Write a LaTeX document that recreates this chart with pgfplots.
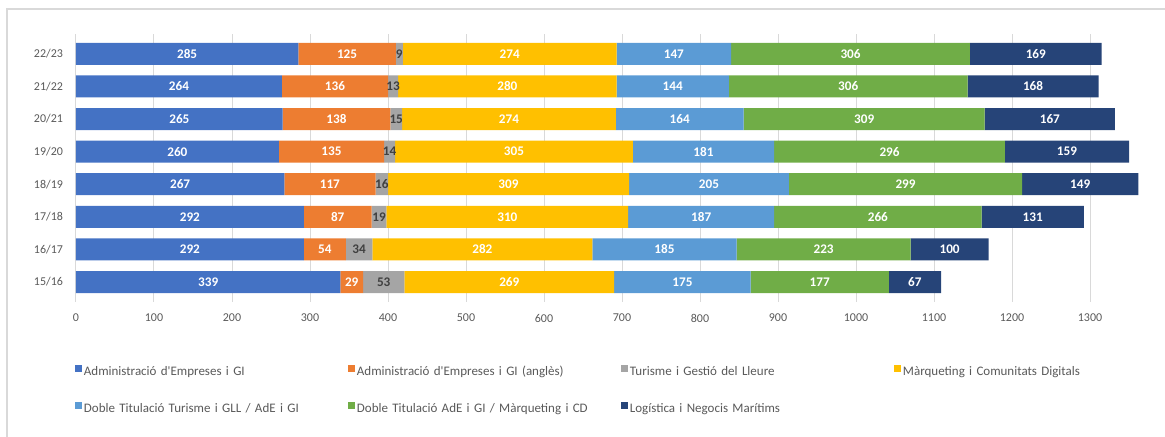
\documentclass[border=0pt]{standalone}
\usepackage{pgfplots}
\pgfplotsset{compat=1.18}
\usepackage{pgfplotstable}
\usepackage{fontspec}
\setmainfont{Carlito}
\definecolor{c1}{HTML}{4472C4}
\definecolor{c2}{HTML}{ED7D31}
\definecolor{c3}{HTML}{A5A5A5}
\definecolor{c4}{HTML}{FFC000}
\definecolor{c5}{HTML}{5B9BD5}
\definecolor{c6}{HTML}{70AD47}
\definecolor{c7}{HTML}{264478}
\definecolor{tickc}{HTML}{595959}
\definecolor{gridc}{HTML}{D9D9D9}
\definecolor{darklab}{HTML}{404040}

\pgfplotstableread{
idx s1 s2 s3 s4 s5 s6 s7
0 339 29 53 269 175 177 67
1 292 54 34 282 185 223 100
2 292 87 19 310 187 266 131
3 267 117 16 309 205 299 149
4 260 135 14 305 181 296 159
5 265 138 15 274 164 309 167
6 264 136 13 280 144 306 168
7 285 125 9 274 147 306 169
}\data

\begin{document}
\begin{tikzpicture}
\path[use as bounding box] (-38pt,-67.7pt) rectangle (544.5pt,150.8pt);
\draw[gridc, line width=0.6pt] (-34.5pt,-67.7pt) -- (-34.5pt,146.3pt) -- (544.5pt,146.3pt);
\begin{axis}[
  at={(0,0)}, anchor=south west,
  scale only axis, width=534.3pt, height=133.66pt,
  xbar stacked, bar width=11pt,
  xmin=0, xmax=1370, ymin=-0.6, ymax=7.6,
  xtick={0,100,...,1300}, ytick={0,...,7},
  yticklabels={15/16,16/17,17/18,18/19,19/20,20/21,21/22,22/23},
  xmajorgrids, grid style={gridc, line width=0.5pt},
  axis line style={draw=none},
  major tick length=0pt,
  tick label style={font=\fontsize{6}{7}\selectfont, text=tickc},
  /pgf/number format/assume math mode=true,
  /pgf/number format/set thousands separator={},
  xticklabel style={yshift=-2.7pt},
  yticklabel style={xshift=-3pt},
  nodes near coords,
  point meta=explicit,
  every node near coord/.style={font=\fontsize{6.6}{8}\selectfont\bfseries, text=white, anchor=center, inner sep=0pt},
  legend columns=4,
  legend cell align=left,
  legend image code/.code={\fill[#1] (0pt,0pt) rectangle (3.5pt,3.5pt);},
  legend style={at={(axis description cs:-0.001,-0.2334)}, anchor=north west,
    draw=none, fill=none, inner sep=0pt, outer sep=0pt, row sep=10pt, column sep=0pt,
    font=\fontsize{6.5}{7.5}\selectfont, text=tickc,
    nodes={inner sep=1pt, text width=131pt, text height=5pt, text depth=1.5pt, align=left}},
]
\addplot[fill=c1, draw=none] table[x=s1,y=idx,meta=s1]{\data};
\addlegendentry{Administració d\textquotesingle Empreses i GI}
\addplot[fill=c2, draw=none] table[x=s2,y=idx,meta=s2]{\data};
\addlegendentry{Administració d\textquotesingle Empreses i GI (anglès)}
\addplot[fill=c3, draw=none, every node near coord/.append style={text=darklab}] table[x=s3,y=idx,meta=s3]{\data};
\addlegendentry{Turisme i Gestió del Lleure}
\addplot[fill=c4, draw=none] table[x=s4,y=idx,meta=s4]{\data};
\addlegendentry{Màrqueting i Comunitats Digitals}
\addplot[fill=c5, draw=none] table[x=s5,y=idx,meta=s5]{\data};
\addlegendentry{Doble Titulació Turisme i GLL / AdE i GI}
\addplot[fill=c6, draw=none] table[x=s6,y=idx,meta=s6]{\data};
\addlegendentry{Doble Titulació AdE i GI / Màrqueting i CD}
\addplot[fill=c7, draw=none] table[x=s7,y=idx,meta=s7]{\data};
\addlegendentry{Logística i Negocis Marítims}
\end{axis}
\end{tikzpicture}
\end{document}
